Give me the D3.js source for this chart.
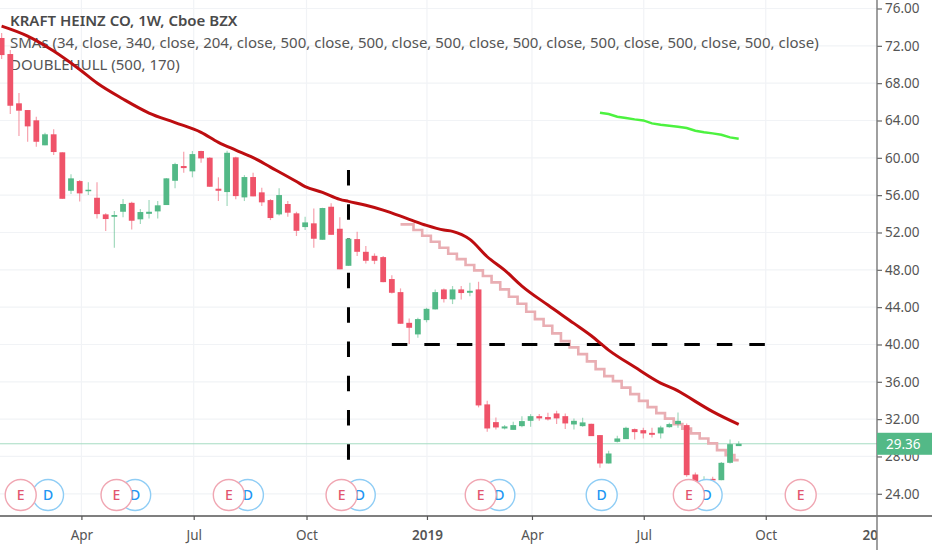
<!DOCTYPE html>
<html>
<head>
<meta charset="utf-8">
<script src="https://cdn.jsdelivr.net/npm/d3@7"></script>
<style>
  html, body { margin: 0; padding: 0; background: #fff; }
  svg { display: block; font-family: "Noto Sans", sans-serif; }
</style>
</head>
<body>
<svg id="chart" width="932" height="550"></svg>
<script>
/* Weekly candles, one entry per week */
const opens = [72.84,71.12,65.84,65.12,64.02,61.34,62.52,60.59,56.47,57.51,56.44,55.72,53.94,53.68,54.22,55.18,53.41,54.00,54.26,54.94,
  57.54,59.12,58.55,60.73,60.01,56.69,56.33,60.05,55.76,57.94,56.30,55.47,53.94,55.05,54.05,52.58,52.98,51.22,54.76,52.40,
  48.43,51.29,49.93,49.50,49.36,47.01,45.61,42.32,41.08,42.61,43.76,45.90,44.83,45.90,45.54,45.90,33.58,31.68,31.00,30.85,
  31.25,31.82,32.32,32.22,32.61,32.32,31.43,31.25,31.50,30.29,27.25,29.57,29.86,30.93,30.82,30.53,30.47,31.14,31.47,31.36,
  26.07,25.35,25.60,25.46,27.32,29.11];
const highs = [73.37,71.55,66.94,65.12,64.40,62.69,63.05,60.59,58.23,57.62,57.37,57.37,54.05,54.30,55.58,55.29,54.51,55.47,55.37,57.83,
  59.47,60.65,60.73,60.76,60.05,57.91,60.76,60.11,58.15,58.40,56.79,55.58,56.73,55.37,54.22,53.68,54.58,54.65,55.12,53.62,
  51.33,52.08,50.54,49.76,49.47,47.43,46.01,42.79,42.86,43.93,45.90,46.01,46.26,46.26,46.61,46.72,33.96,32.18,31.36,31.71,
  32.32,32.54,32.54,32.68,32.89,32.61,32.08,32.14,31.50,30.29,28.60,30.21,31.18,31.00,31.07,31.07,31.28,31.61,32.72,31.54,
  26.29,25.89,25.82,27.42,29.83,29.64];
const lows = [70.59,64.69,62.33,61.72,61.19,61.34,60.30,55.61,56.12,55.33,56.01,53.51,52.15,50.36,53.62,52.33,52.90,53.51,53.51,54.94,
  56.73,58.40,57.91,59.47,56.90,55.37,54.83,55.55,55.37,55.87,54.83,53.33,53.83,53.68,51.62,52.26,50.36,51.22,51.75,48.05,
  48.43,49.47,48.69,48.61,46.68,45.47,42.22,40.04,40.72,42.37,43.76,44.51,44.33,44.83,45.18,33.26,30.64,30.90,30.90,30.85,
  31.14,31.18,31.82,31.86,31.47,30.93,30.90,31.18,30.18,26.78,27.25,29.50,29.86,29.83,29.93,30.04,29.93,31.07,31.07,25.82,
  25.14,25.25,25.39,25.46,27.25,29.11];
const closes = [71.01,65.58,65.05,63.37,61.72,62.52,60.62,55.61,57.80,56.19,56.58,53.97,53.44,53.87,55.05,53.26,54.19,54.22,54.91,57.80,
  59.33,58.90,60.40,59.94,56.90,56.47,60.54,55.90,57.94,55.87,55.23,53.55,56.01,54.12,52.18,53.08,51.33,54.62,51.75,48.05,
  51.33,49.93,48.97,48.97,46.68,45.54,42.22,41.79,42.72,43.82,45.61,44.86,45.90,45.51,45.75,33.47,31.00,31.11,31.22,31.36,
  31.79,32.32,32.08,31.97,32.08,31.54,31.82,31.65,30.18,27.25,28.32,29.93,31.07,30.61,30.47,30.32,31.11,31.47,31.82,26.00,
  25.28,25.46,25.50,27.32,29.32,29.36];

/* SMA 34 (dark red), sampled at the weeks listed */
const smaWeeks = [0,3,6,9,11,14,17,20,23,25,27,29,31,34,35,37,39,40,42,44,47,49,51,52,54,56,58,60,63,66,68,70,73,76,78,79,82,85];
const smaValues = [74.12,73.05,71.44,69.46,68.01,66.30,64.80,63.78,62.73,61.66,60.83,60.03,59.01,57.46,56.92,56.30,55.55,55.33,54.91,54.40,
  53.41,52.76,52.26,52.12,51.26,49.40,47.97,46.26,44.22,42.26,40.93,39.40,37.58,35.86,35.03,34.47,32.80,31.43];

/* SMA 340 (green), starts at week 69 */
const greenStart = 69;
const greenValues = [64.83,64.69,64.40,64.26,64.12,64.01,63.69,63.54,63.44,63.33,63.19,62.90,62.73,62.62,62.47,62.19,62.04];

/* DOUBLEHULL (pink staircase), starts at week 46 */
const hullStart = 46;
const hullValues = [52.87,52.87,52.26,51.65,51.00,50.36,49.72,49.15,48.51,47.94,47.33,46.65,45.90,45.11,44.36,43.50,42.72,42.00,41.19,40.36,
  39.69,38.97,38.19,37.36,36.61,36.07,35.38,34.68,33.96,33.29,32.64,32.05,31.47,30.98,30.47,29.93,29.40,28.68,28.14,27.61];

/* Axes */
const priceTicks = [76,72,68,64,60,56,52,48,44,40,36,32,28,24];
const timeTickWeeks = [9.2,22.15,35.16,49.05,61.16,74.05,88.12];
const timeTickLabels = ['Apr','Jul','Oct','2019','Apr','Jul','Oct'];
const lastPrice = 29.36;

/* Dividend and earnings markers (week position on the time scale), E bubbles sit on top */
const eventTypes = ['D','D','D','D','D','D','D','E','E','E','E','E','E','E'];
const eventWeeks = [5.35,15.4,28.4,41.3,57.4,69.2,81.3,2.2,13.25,26.2,39.2,55.25,79.25,92.15];

/* Drawn annotations */
const vLineWeek = 40, vLinePrices = [58.7, 25.7];
const hLinePrice = 40, hLineWeeks = [45, 88.4];

const W = 932, H = 550, axisX = 877, axisY = 516;
const RED = '#ef5369', GREEN = '#53b987';

const svg = d3.select('#chart');
const x = d3.scaleLinear().domain([0, 85]).range([1.63, 738.7]);
const y = d3.scaleLinear().domain([24, 76]).range([493.8, 8.5]);

// Clip everything in the plot to the pane
svg.append('defs').append('clipPath').attr('id', 'pane')
  .append('rect').attr('width', axisX).attr('height', axisY);
svg.select('defs').append('clipPath').attr('id', 'timeAxis')
  .append('rect').attr('y', axisY).attr('width', axisX).attr('height', H - axisY);

const grid = svg.append('g').attr('stroke', '#f1f3f6').attr('stroke-width', 1.2);
grid.selectAll('.gy').data(priceTicks).join('line')
  .attr('x1', 0).attr('x2', axisX).attr('y1', d => y(d)).attr('y2', d => y(d));
grid.selectAll('.gx').data(timeTickWeeks).join('line')
  .attr('x1', d => x(d)).attr('x2', d => x(d)).attr('y1', 0).attr('y2', axisY);

// Legend sits under the series
const legend = svg.append('g').attr('fill', '#555').style('font-size', '15px');
legend.append('text').attr('x', 10).attr('y', 26).attr('font-weight', 600).attr('fill', '#4a4a4a')
  .text('KRAFT HEINZ CO, 1W, Cboe BZX');
legend.append('text').attr('x', 10).attr('y', 48)
  .text('SMAs (34, close, 340, close, 204, close, 500, close, 500, close, 500, close, 500, close, 500, close, 500, close, 500, close)');
legend.append('text').attr('x', 10).attr('y', 70).text('DOUBLEHULL (500, 170)');

const plot = svg.append('g').attr('clip-path', 'url(#pane)');

// Last price line
plot.append('line')
  .attr('x1', 0).attr('x2', axisX).attr('y1', y(lastPrice)).attr('y2', y(lastPrice))
  .attr('stroke', '#a5dcc2').attr('stroke-width', 1);

// Pink staircase goes behind the candles
const hullLine = d3.line().curve(d3.curveStep)
  .x((d, i) => x(hullStart + i)).y(d => y(d));
plot.append('path').attr('d', hullLine(hullValues))
  .attr('fill', 'none').attr('stroke', '#e9aeb3').attr('stroke-width', 2.6);

// Dashed annotations, candles cover them
plot.append('line')
  .attr('x1', x(vLineWeek)).attr('x2', x(vLineWeek))
  .attr('y1', y(vLinePrices[0])).attr('y2', y(vLinePrices[1]))
  .attr('stroke', '#000').attr('stroke-width', 3).attr('stroke-dasharray', '15.5 18.8');
plot.append('line')
  .attr('x1', x(hLineWeeks[0])).attr('x2', x(hLineWeeks[1]))
  .attr('y1', y(hLinePrice)).attr('y2', y(hLinePrice))
  .attr('stroke', '#000').attr('stroke-width', 3).attr('stroke-dasharray', '15.5 17');

// Candles
const candles = plot.append('g');
candles.selectAll('.wick').data(closes).join('line')
  .attr('x1', (d, i) => x(i)).attr('x2', (d, i) => x(i))
  .attr('y1', (d, i) => y(highs[i])).attr('y2', (d, i) => y(lows[i]))
  .attr('stroke', (d, i) => d >= opens[i] ? GREEN : RED)
  .attr('stroke-opacity', 0.55).attr('stroke-width', 1.2);
candles.selectAll('.body').data(closes).join('rect')
  .attr('x', (d, i) => x(i) - 2.9).attr('width', 5.8)
  .attr('y', (d, i) => y(Math.max(d, opens[i])))
  .attr('height', (d, i) => Math.max(1.5, Math.abs(y(d) - y(opens[i]))))
  .attr('fill', (d, i) => d >= opens[i] ? GREEN : RED);

// Moving averages
const smaLine = d3.line().curve(d3.curveMonotoneX)
  .x((d, i) => x(smaWeeks[i])).y(d => y(d));
plot.append('path').attr('d', smaLine(smaValues))
  .attr('fill', 'none').attr('stroke', '#bd0d10').attr('stroke-width', 3);

const greenLine = d3.line().x((d, i) => x(greenStart + i)).y(d => y(d));
plot.append('path').attr('d', greenLine(greenValues))
  .attr('fill', 'none').attr('stroke', '#4cf23f').attr('stroke-width', 2.5);

// Event bubbles, white fill hides whatever is under them
const events = plot.append('g').selectAll('g').data(eventTypes).join('g')
  .attr('transform', (d, i) => `translate(${x(eventWeeks[i])},495)`);
events.append('circle').attr('r', 15.5).attr('fill', '#fff')
  .attr('stroke', d => d === 'E' ? '#f0a6b2' : '#8fcdf5').attr('stroke-width', 1.4);
events.append('text').text(d => d)
  .attr('text-anchor', 'middle').attr('dy', '0.36em')
  .style('font-size', '14px').attr('font-weight', 500)
  .attr('fill', d => d === 'E' ? '#e2566f' : '#2196f3');

// Price axis
const priceAxis = d3.axisRight(y).tickValues(priceTicks).tickFormat(d3.format('.2f')).tickSize(5).tickPadding(3);
const pa = svg.append('g').attr('transform', `translate(${axisX},0)`).call(priceAxis);
pa.select('.domain').remove();
pa.selectAll('line').attr('stroke', '#666').attr('stroke-width', 1.2);
pa.selectAll('text').attr('fill', '#555').style('font-size', '13.5px').style('font-family', '"Noto Sans", sans-serif');

// Time axis
const timeAxis = d3.axisBottom(x).tickValues(timeTickWeeks)
  .tickFormat((d, i) => timeTickLabels[i]).tickSize(4).tickPadding(10);
const ta = svg.append('g').attr('transform', `translate(0,${axisY})`).call(timeAxis);
ta.select('.domain').remove();
ta.selectAll('line').attr('stroke', '#555').attr('stroke-width', 1.2);
ta.selectAll('text').attr('fill', '#555').style('font-size', '13.5px').style('font-family', '"Noto Sans", sans-serif')
  .attr('font-weight', (d, i) => timeTickLabels[i] === '2019' ? 600 : 400);

// 2020 label is cut off by the price axis
svg.append('g').attr('clip-path', 'url(#timeAxis)').append('text')
  .attr('x', 862.5).attr('y', 540).attr('fill', '#555').attr('font-weight', 600)
  .style('font-size', '13.5px').text('2020');

// Axis rules
svg.append('line').attr('x1', 0).attr('x2', W).attr('y1', axisY).attr('y2', axisY)
  .attr('stroke', '#555').attr('stroke-width', 1.4);
svg.append('line').attr('x1', axisX).attr('x2', axisX).attr('y1', 0).attr('y2', H)
  .attr('stroke', '#777').attr('stroke-width', 1.4);

// Last price tag
svg.append('rect').attr('x', axisX).attr('y', y(lastPrice) - 11).attr('width', W - axisX).attr('height', 22)
  .attr('fill', GREEN);
svg.append('text').attr('x', 886).attr('y', y(lastPrice)).attr('dy', '0.36em')
  .attr('fill', '#fff').style('font-size', '13.5px').text(d3.format('.2f')(lastPrice));
</script>
</body>
</html>
